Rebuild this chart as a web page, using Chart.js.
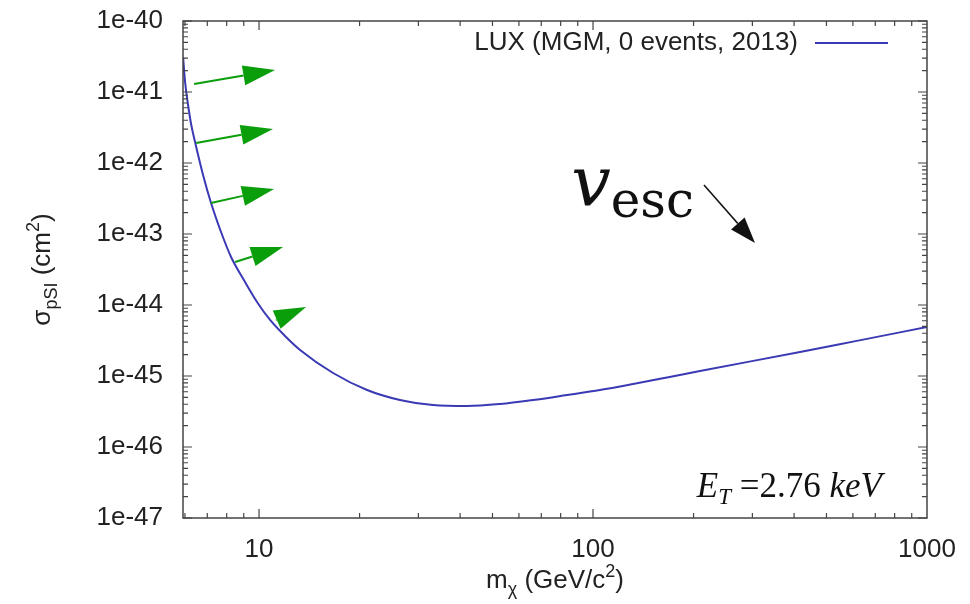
<!DOCTYPE html>
<html>
<head>
<meta charset="utf-8">
<title>LUX spin-independent limit</title>
<script src="https://cdn.jsdelivr.net/npm/chart.js@4.4.1/dist/chart.umd.min.js"></script>
<style>
  html, body { margin: 0; padding: 0; background: #fff; }
  #wrap { width: 970px; height: 604px; position: relative; }
</style>
</head>
<body>
<div id="wrap"><canvas id="chart"></canvas></div>
<script>
// WIMP mass (GeV/c^2) and the LUX upper limit on sigma_pSI (cm^2)
const masses = [5.924, 6.006, 6.131, 6.259, 6.433, 6.798, 7.183, 7.695, 8.246, 9.080, 9.863, 10.79, 11.96,
  13.27, 16.66, 21.06, 26.43, 33.20, 41.96, 52.67, 66.13, 83.59, 104.9, 131.8, 166.6, 209.1, 416.8, 600.3, 1000];
const sigmaLimit = [3.11e-41, 1.383e-41, 6.56e-42, 3.54e-42, 1.976e-42, 6.78e-43, 2.733e-43, 1.067e-43,
  4.745e-44, 2.108e-44, 1.102e-44, 6.15e-45, 3.66e-45, 2.324e-45, 1.102e-45, 6.35e-46, 4.59e-46, 3.904e-46,
  3.779e-46, 4.034e-46, 4.59e-46, 5.40e-46, 6.35e-46, 7.71e-46, 9.53e-46, 1.176e-45, 2.178e-45, 3.05e-45, 4.90e-45];

const xTicks = [10, 100, 1000];
const yTicks = [1e-47, 1e-46, 1e-45, 1e-44, 1e-43, 1e-42, 1e-41, 1e-40];

// green arrows along the low-mass edge (mass, sigma)
const shiftFrom = [[6.39, 1.30e-41], [6.48, 1.91e-42], [7.18, 2.74e-43], [8.48, 4.04e-44], [11.24, 6.15e-45]];
const shiftTo   = [[11.17, 2.04e-41], [11.01, 3.01e-42], [11.09, 4.31e-43], [11.80, 6.56e-44], [13.83, 9.37e-45]];

// escape-velocity arrow and its label
const escFrom = [214.9, 4.90e-43];
const escTo = [305.5, 7.46e-44];
const escLabelAt = [86.0, 2.56e-43];
const thresholdLabelAt = [204.6, 1.98e-47];

const SANS = '"Liberation Sans", Arial, sans-serif';
const SERIF = '"DejaVu Serif", serif';
const TIMES = '"Liberation Serif", "Times New Roman", serif';
const INK = '#222';
const LINE_COLOR = '#3a3ab4';

function drawArrow(ctx, x0, y0, x1, y1, color, headLen, headHalf, width) {
  const a = Math.atan2(y1 - y0, x1 - x0);
  const bx = x1 - headLen * Math.cos(a), by = y1 - headLen * Math.sin(a);
  ctx.strokeStyle = color;
  ctx.fillStyle = color;
  ctx.lineWidth = width;
  if (Math.hypot(x1 - x0, y1 - y0) > headLen) {
    ctx.beginPath();
    ctx.moveTo(x0, y0);
    ctx.lineTo(bx, by);
    ctx.stroke();
  }
  ctx.beginPath();
  ctx.moveTo(x1, y1);
  ctx.lineTo(bx + headHalf * Math.sin(a), by - headHalf * Math.cos(a));
  ctx.lineTo(bx - headHalf * Math.sin(a), by + headHalf * Math.cos(a));
  ctx.closePath();
  ctx.fill();
}

// text made of runs: [text, font, baseline shift]
function runsWidth(ctx, runs) {
  let w = 0;
  for (const [t, font] of runs) { ctx.font = font; w += ctx.measureText(t).width; }
  return w;
}
function drawRuns(ctx, runs, x, y) {
  for (const [t, font, dy] of runs) {
    ctx.font = font;
    ctx.fillText(t, x, y + dy);
    x += ctx.measureText(t).width;
  }
}

const decorations = {
  id: 'decorations',
  afterDraw(chart) {
    const { ctx, chartArea: ca, scales: { x, y } } = chart;
    ctx.save();

    // frame
    ctx.strokeStyle = '#444';
    ctx.lineWidth = 1.5;
    ctx.strokeRect(ca.left, ca.top, ca.right - ca.left, ca.bottom - ca.top);

    // inward ticks on all four sides, minor ones at 2..9
    ctx.lineWidth = 1.2;
    ctx.beginPath();
    for (const d of [1, 10, 100]) {
      for (let k = 1; k <= 9; k++) {
        const v = k * d;
        if (v < x.min || v > x.max) continue;
        const px = x.getPixelForValue(v), len = k === 1 ? 9 : 5;
        ctx.moveTo(px, ca.bottom); ctx.lineTo(px, ca.bottom - len);
        ctx.moveTo(px, ca.top); ctx.lineTo(px, ca.top + len);
      }
    }
    for (let e = -47; e <= -40; e++) {
      for (let k = 1; k <= 9; k++) {
        const v = k * Math.pow(10, e);
        if (v < y.min * 0.999 || v > y.max * 1.001) continue;
        const py = y.getPixelForValue(v), len = k === 1 ? 9 : 5;
        ctx.moveTo(ca.left, py); ctx.lineTo(ca.left + len, py);
        ctx.moveTo(ca.right, py); ctx.lineTo(ca.right - len, py);
      }
    }
    ctx.stroke();

    // green arrows
    shiftFrom.forEach((p, i) => {
      const q = shiftTo[i];
      drawArrow(ctx, x.getPixelForValue(p[0]), y.getPixelForValue(p[1]),
        x.getPixelForValue(q[0]), y.getPixelForValue(q[1]), '#0b9e0b', 32, 10, 2);
    });

    // v_esc arrow and label
    drawArrow(ctx, x.getPixelForValue(escFrom[0]), y.getPixelForValue(escFrom[1]),
      x.getPixelForValue(escTo[0]), y.getPixelForValue(escTo[1]), '#111', 26, 9, 1.6);
    ctx.fillStyle = '#111';
    ctx.textBaseline = 'alphabetic';
    ctx.textAlign = 'left';
    drawRuns(ctx, [['v', 'italic 70px ' + SERIF, 0], ['esc', '50px ' + SERIF, 12]],
      x.getPixelForValue(escLabelAt[0]), y.getPixelForValue(escLabelAt[1]));

    // threshold energy
    drawRuns(ctx, [['E', 'italic 35px ' + TIMES, 0], ['T', 'italic 23px ' + TIMES, 7],
      [' =2.76 ', '35px ' + TIMES, 0], ['keV', 'italic 35px ' + TIMES, 0]],
      x.getPixelForValue(thresholdLabelAt[0]), y.getPixelForValue(thresholdLabelAt[1]));

    // key
    const ds = chart.data.datasets[0];
    ctx.fillStyle = INK;
    ctx.font = '26px ' + SANS;
    ctx.textAlign = 'right';
    ctx.textBaseline = 'middle';
    ctx.fillText(ds.label, 798, 43);
    ctx.strokeStyle = ds.borderColor;
    ctx.lineWidth = 2;
    ctx.beginPath();
    ctx.moveTo(815, 43);
    ctx.lineTo(888, 43);
    ctx.stroke();

    // axis titles
    ctx.fillStyle = INK;
    ctx.textAlign = 'left';
    ctx.textBaseline = 'alphabetic';
    const xTitle = [['m', '26px ' + SANS, 0], ['\u03c7', '18px ' + SANS, 7],
      [' (GeV/c', '26px ' + SANS, 0], ['2', '18px ' + SANS, -11], [')', '26px ' + SANS, 0]];
    const xc = (ca.left + ca.right) / 2;
    drawRuns(ctx, xTitle, xc - runsWidth(ctx, xTitle) / 2, 588);

    const yTitle = [['\u03c3', '26px ' + SANS, 0], ['pSI', '18px ' + SANS, 7],
      [' (cm', '26px ' + SANS, 0], ['2', '18px ' + SANS, -11], [')', '26px ' + SANS, 0]];
    ctx.translate(40, (ca.top + ca.bottom) / 2);
    ctx.rotate(-Math.PI / 2);
    drawRuns(ctx, yTitle, -runsWidth(ctx, yTitle) / 2, 10);

    ctx.restore();
  }
};

const tickFont = { family: SANS, size: 26 };

new Chart(document.getElementById('chart'), {
  type: 'line',
  data: {
    datasets: [{
      label: 'LUX (MGM, 0 events, 2013)',
      data: masses.map((m, i) => ({ x: m, y: sigmaLimit[i] })),
      borderColor: LINE_COLOR,
      borderWidth: 2,
      pointRadius: 0,
      fill: false,
      cubicInterpolationMode: 'monotone'
    }]
  },
  options: {
    responsive: true,
    maintainAspectRatio: false,
    animation: false,
    layout: { padding: { top: 21, right: 43, bottom: 0, left: 0 } },
    plugins: { legend: { display: false }, tooltip: { enabled: false } },
    scales: {
      x: {
        type: 'logarithmic',
        min: 5.92,
        max: 1000,
        afterBuildTicks: s => { s.ticks = xTicks.map(v => ({ value: v })); },
        // fixed box; label overhang is covered by the layout padding
        afterFit: s => { s.height = 86; s.paddingLeft = 0; s.paddingRight = 0; },
        grid: { display: false, drawTicks: false },
        border: { display: false },
        ticks: { autoSkip: false, maxRotation: 0, padding: 16, color: INK, font: tickFont,
          callback: v => String(v) }
      },
      y: {
        type: 'logarithmic',
        min: 1e-47,
        max: 1e-40,
        afterBuildTicks: s => { s.ticks = yTicks.map(v => ({ value: v })); },
        afterFit: s => { s.width = 183; s.paddingTop = 0; s.paddingBottom = 0; },
        grid: { display: false, drawTicks: false },
        border: { display: false },
        ticks: { autoSkip: false, padding: 20, color: INK, font: tickFont,
          callback: v => Number(v).toExponential(0) }
      }
    }
  },
  plugins: [decorations]
});
</script>
</body>
</html>
